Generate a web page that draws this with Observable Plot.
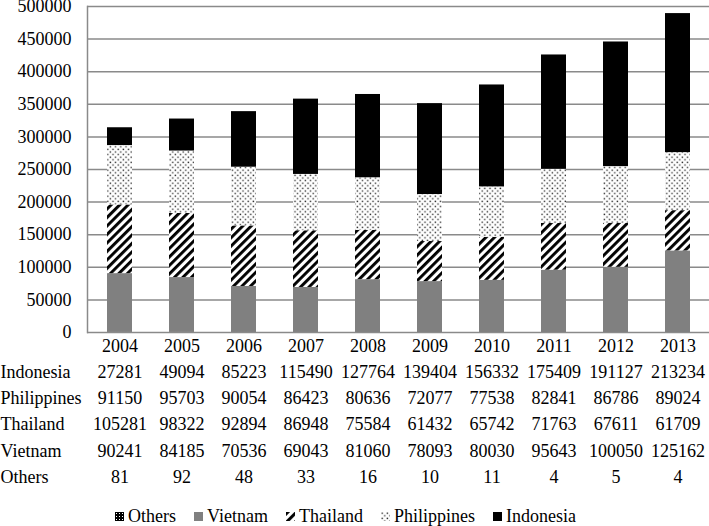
<!DOCTYPE html>
<html>
<head>
<meta charset="utf-8">
<script src="https://cdn.jsdelivr.net/npm/d3@7"></script>
<script src="https://cdn.jsdelivr.net/npm/@observablehq/plot@0.6"></script>
<style>
  html, body { margin: 0; padding: 0; background: #fff; }
  #chart { width: 709px; font-family: "Liberation Serif", "Times New Roman", serif; }
  .leg-swatches { justify-content: center !important; margin-left: 0 !important; font-family: "Liberation Serif", serif !important; font-size: 18px !important; color: #000 !important; }
  .leg-swatch { margin-right: 18px !important; }
  .leg-swatch > svg { margin-right: 4px !important; }
</style>
</head>
<body>
<div id="chart"></div>
<script>
const years = ["2004","2005","2006","2007","2008","2009","2010","2011","2012","2013"];
const indonesia   = [27281, 49094, 85223, 115490, 127764, 139404, 156332, 175409, 191127, 213234];
const philippines = [91150, 95703, 90054, 86423, 80636, 72077, 77538, 82841, 86786, 89024];
const thailand    = [105281, 98322, 92894, 86948, 75584, 61432, 65742, 71763, 67611, 61709];
const vietnam     = [90241, 84185, 70536, 69043, 81060, 78093, 80030, 95643, 100050, 125162];
const others      = [81, 92, 48, 33, 16, 10, 11, 4, 5, 4];

const tableOrder = ["Indonesia", "Philippines", "Thailand", "Vietnam", "Others"];
const stackOrder = ["Others", "Vietnam", "Thailand", "Philippines", "Indonesia"];
const seriesValues = {Indonesia: indonesia, Philippines: philippines, Thailand: thailand, Vietnam: vietnam, Others: others};
const fills = ["url(#pat-others)", "#808080", "url(#pat-thai)", "url(#pat-phil)", "#000000"];
const yTicks = [0, 50000, 100000, 150000, 200000, 250000, 300000, 350000, 400000, 450000, 500000];

const data = [];
for (const s of stackOrder) years.forEach((y, i) => data.push({year: y, series: s, value: seriesValues[s][i]}));

const font = "Liberation Serif";
const rowDy = {Indonesia: 39.7, Philippines: 66, Thailand: 92.2, Vietnam: 118.7, Others: 145};

const tableMarks = [];
for (const s of tableOrder) {
  tableMarks.push(Plot.text(years.map((y, i) => ({year: y, v: seriesValues[s][i]})), {
    x: "year", text: d => String(d.v), frameAnchor: "bottom", lineAnchor: "middle",
    dy: rowDy[s], fontSize: 18, fontFamily: font, fill: "#000"
  }));
  tableMarks.push(Plot.text([s], {
    text: d => d, frameAnchor: "bottom-left", lineAnchor: "middle", textAnchor: "start",
    dx: -87, dy: rowDy[s], fontSize: 18, fontFamily: font, fill: "#000"
  }));
}

const color = {domain: stackOrder, range: fills};

const chart = Plot.plot({
  width: 709,
  height: 500,
  marginLeft: 87,
  marginRight: 0,
  marginTop: 6,
  marginBottom: 168,
  style: {fontFamily: font, fontSize: "18px", color: "#000", background: "#fff"},
  x: {domain: years, paddingInner: 0.6, paddingOuter: 0.3, label: null},
  y: {domain: [0, 500000], label: null},
  color,
  marks: [
    Plot.ruleY(yTicks, {stroke: "#8a8a8a", strokeWidth: 1.5}),
    Plot.barY(data, Plot.stackY({x: "year", y: "value", fill: "series", order: stackOrder})),
    Plot.frame({anchor: "left", stroke: "#8a8a8a", strokeWidth: 1.5}),
    Plot.axisY({ticks: yTicks, tickSize: 0, tickPadding: 16, tickFormat: d => String(d), fontSize: 18, fontFamily: font, fontVariant: "normal", fill: "#000", label: null}),
    Plot.axisX({tickSize: 0, tickPadding: 7, fontSize: 18, fontFamily: font, fontVariant: "normal", fill: "#000", label: null}),
    ...tableMarks
  ]
});

// pattern definitions for the hatched fills
const svg = d3.select(chart);
const defs = svg.insert("defs", ":first-child");
const pThai = defs.append("pattern").attr("id", "pat-thai").attr("patternUnits", "userSpaceOnUse")
  .attr("width", 6).attr("height", 6).attr("patternTransform", "rotate(45)");
pThai.append("rect").attr("width", 6).attr("height", 6).attr("fill", "#fff");
pThai.append("rect").attr("x", 0).attr("y", 0).attr("width", 2.9).attr("height", 6).attr("fill", "#000");
const pPhil = defs.append("pattern").attr("id", "pat-phil").attr("patternUnits", "userSpaceOnUse")
  .attr("width", 5.2).attr("height", 5.2);
pPhil.append("rect").attr("width", 5.2).attr("height", 5.2).attr("fill", "#fff");
pPhil.append("rect").attr("x", 0.5).attr("y", 0.5).attr("width", 1.4).attr("height", 1.4).attr("fill", "#333");
pPhil.append("rect").attr("x", 3.1).attr("y", 3.1).attr("width", 1.4).attr("height", 1.4).attr("fill", "#333");
const pOth = defs.append("pattern").attr("id", "pat-others").attr("patternUnits", "userSpaceOnUse")
  .attr("width", 3).attr("height", 3);
pOth.append("rect").attr("width", 3).attr("height", 3).attr("fill", "#000");
pOth.append("rect").attr("x", 1).attr("y", 1).attr("width", 1).attr("height", 1).attr("fill", "#fff");

document.getElementById("chart").appendChild(chart);

const legend = Plot.legend({color, legend: "swatches", swatchSize: 9, className: "leg"});
document.getElementById("chart").appendChild(legend);
</script>
</body>
</html>
